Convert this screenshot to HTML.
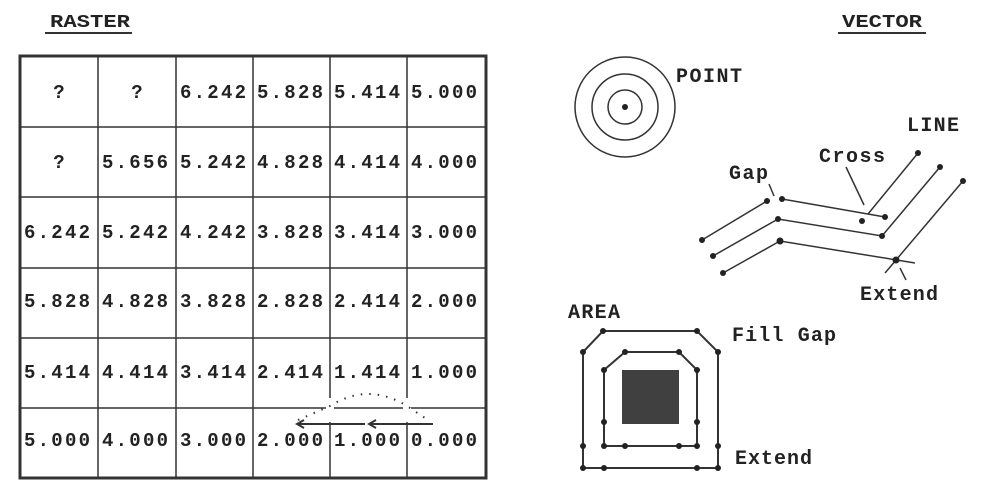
<!DOCTYPE html>
<html><head><style>html,body{margin:0;padding:0;background:#fff}svg{display:block}</style></head>
<body>
<svg width="982" height="499" viewBox="0 0 982 499" xmlns="http://www.w3.org/2000/svg" font-family="'Liberation Mono', monospace" font-weight="bold" fill="#222">
<text x="50" y="27" font-size="18" textLength="80" lengthAdjust="spacingAndGlyphs">RASTER</text>
<line x1="45" y1="33" x2="132" y2="33" stroke="#333" stroke-width="2"/>
<text x="842" y="27" font-size="18" textLength="80" lengthAdjust="spacingAndGlyphs">VECTOR</text>
<line x1="838" y1="33" x2="926" y2="33" stroke="#333" stroke-width="2"/>
<g stroke="#333" fill="none">
<rect x="20" y="56" width="466" height="422" stroke-width="3"/>
<g stroke-width="1.5">
<line x1="98" y1="56" x2="98" y2="478"/><line x1="176" y1="56" x2="176" y2="478"/><line x1="253" y1="56" x2="253" y2="478"/><line x1="330" y1="56" x2="330" y2="478"/><line x1="407" y1="56" x2="407" y2="478"/>
<line x1="20" y1="127" x2="486" y2="127"/><line x1="20" y1="197" x2="486" y2="197"/><line x1="20" y1="268" x2="486" y2="268"/><line x1="20" y1="338" x2="486" y2="338"/><line x1="20" y1="408" x2="486" y2="408"/>
</g>
</g>
<g font-size="19" fill="#222" text-anchor="middle">
<text x="59" y="98">?</text><text x="137" y="98">?</text>
<text x="59" y="168">?</text>
</g>
<g font-size="19" fill="#222" lengthAdjust="spacingAndGlyphs">
<text x="180" y="98" textLength="66">6.242</text><text x="257" y="98" textLength="66">5.828</text><text x="334" y="98" textLength="66">5.414</text><text x="411" y="98" textLength="66">5.000</text>
<text x="102" y="168" textLength="66">5.656</text><text x="180" y="168" textLength="66">5.242</text><text x="257" y="168" textLength="66">4.828</text><text x="334" y="168" textLength="66">4.414</text><text x="411" y="168" textLength="66">4.000</text>
<text x="24" y="238" textLength="66">6.242</text><text x="102" y="238" textLength="66">5.242</text><text x="180" y="238" textLength="66">4.242</text><text x="257" y="238" textLength="66">3.828</text><text x="334" y="238" textLength="66">3.414</text><text x="411" y="238" textLength="66">3.000</text>
<text x="24" y="307" textLength="66">5.828</text><text x="102" y="307" textLength="66">4.828</text><text x="180" y="307" textLength="66">3.828</text><text x="257" y="307" textLength="66">2.828</text><text x="334" y="307" textLength="66">2.414</text><text x="411" y="307" textLength="66">2.000</text>
<text x="24" y="378" textLength="66">5.414</text><text x="102" y="378" textLength="66">4.414</text><text x="180" y="378" textLength="66">3.414</text><text x="257" y="378" textLength="66">2.414</text><text x="334" y="378" textLength="66">1.414</text><text x="411" y="378" textLength="66">1.000</text>
<text x="24" y="446" textLength="66">5.000</text><text x="102" y="446" textLength="66">4.000</text><text x="180" y="446" textLength="66">3.000</text><text x="257" y="446" textLength="66">2.000</text><text x="334" y="446" textLength="66">1.000</text><text x="411" y="446" textLength="66">0.000</text>
</g>
<rect x="326" y="398" width="8" height="24" fill="#fff"/><rect x="403" y="398" width="8" height="24" fill="#fff"/>
<g stroke="#333" fill="none">
<path d="M298 420 L330 406 Q368 382 407 406 L428 420" stroke-dasharray="1.5 7" stroke-width="2"/>
<line x1="298" y1="424" x2="365" y2="424" stroke-width="2"/><line x1="370" y1="424" x2="433" y2="424" stroke-width="2"/>
<path d="M304 420 L297 424 L304 428 M376 420 L369 424 L376 428" stroke-width="2"/>
</g>
<g stroke="#333" fill="none" stroke-width="1.5">
<circle cx="625" cy="107" r="50"/><circle cx="625" cy="107" r="33"/><circle cx="625" cy="107" r="17"/>
</g>
<circle cx="625" cy="107" r="3" fill="#222"/>
<g font-size="20" fill="#222" lengthAdjust="spacingAndGlyphs">
<text x="676" y="82" textLength="66">POINT</text>
<text x="907" y="131" textLength="52">LINE</text>
<text x="819" y="162" textLength="66">Cross</text>
<text x="729" y="179" textLength="39">Gap</text>
<text x="860" y="300" textLength="78">Extend</text>
<text x="568" y="318" textLength="52">AREA</text>
<text x="732" y="341" textLength="104">Fill Gap</text>
<text x="735" y="464" textLength="77">Extend</text>
</g>
<g stroke="#333" fill="none" stroke-width="1.5">
<polyline points="702,240 767,201"/><polyline points="782,199 885,217"/>
<polyline points="713,256 778,219 882,236 940,167"/>
<polyline points="723,273 780,241 915,263"/>
<line x1="963" y1="181" x2="885" y2="273"/>
<line x1="918" y1="153" x2="868" y2="214"/>
<line x1="846" y1="167" x2="864" y2="205"/>
<line x1="769" y1="184" x2="774" y2="196"/>
<line x1="900" y1="268" x2="906" y2="280"/>
</g>
<g fill="#222">
<circle cx="702" cy="240" r="3"/><circle cx="767" cy="201" r="3"/><circle cx="782" cy="199" r="3"/><circle cx="885" cy="217" r="3"/>
<circle cx="713" cy="256" r="3"/><circle cx="778" cy="219" r="3"/><circle cx="882" cy="236" r="3"/><circle cx="918" cy="153" r="3"/><circle cx="940" cy="167" r="3"/><circle cx="963" cy="181" r="3"/>
<circle cx="723" cy="273" r="3"/><circle cx="780" cy="241" r="3.5"/><circle cx="896" cy="260" r="3.5"/><circle cx="862" cy="221" r="3"/>
</g>
<g stroke="#333" fill="none" stroke-width="2">
<polygon points="603,331 697,331 718,352 718,468 583,468 583,352"/>
<polygon points="625,352 679,352 697,370 697,446 604,446 604,370"/>
</g>
<rect x="622" y="370" width="57" height="54" fill="#404040"/>
<g fill="#222">
<circle cx="603" cy="331" r="3"/><circle cx="697" cy="331" r="3"/><circle cx="583" cy="352" r="3"/><circle cx="718" cy="352" r="3"/>
<circle cx="583" cy="446" r="3"/><circle cx="718" cy="446" r="3"/><circle cx="583" cy="468" r="3"/><circle cx="604" cy="468" r="3"/><circle cx="697" cy="468" r="3"/><circle cx="718" cy="468" r="3"/>
<circle cx="625" cy="352" r="3"/><circle cx="679" cy="352" r="3"/><circle cx="604" cy="370" r="3"/><circle cx="697" cy="370" r="3"/>
<circle cx="604" cy="422" r="3"/><circle cx="697" cy="422" r="3"/><circle cx="604" cy="446" r="3"/><circle cx="625" cy="446" r="3"/><circle cx="679" cy="446" r="3"/><circle cx="697" cy="446" r="3"/>
</g>
</svg>
</body></html>
